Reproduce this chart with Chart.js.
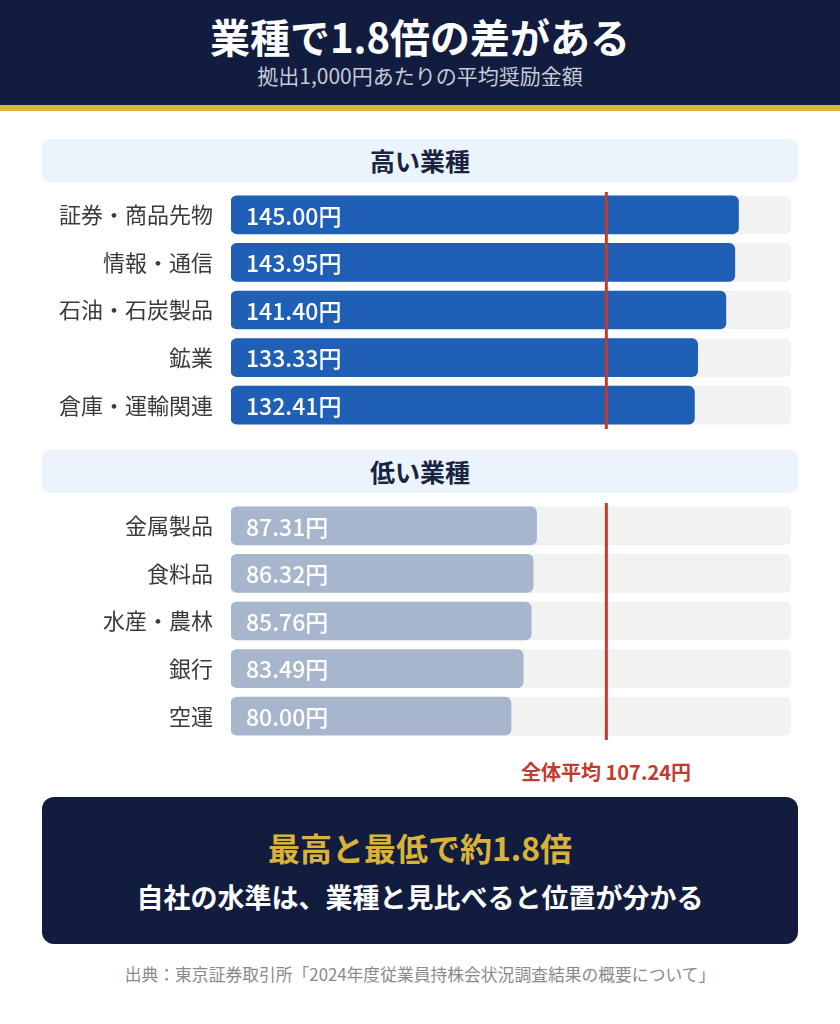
<!DOCTYPE html>
<html lang="ja">
<head>
<meta charset="utf-8">
<script src="https://cdn.jsdelivr.net/npm/chart.js@4.4.1/dist/chart.umd.min.js"></script>
<style>
  body { margin: 0; background: #fff; font-family: "Noto Sans CJK JP", "Noto Sans", sans-serif; }
  #page { position: relative; width: 840px; height: 1024px; overflow: hidden; }
  #header { position: absolute; left: 0; top: 0; width: 840px; height: 105px; background: #111c3f; border-bottom: 6px solid #d8b23a; }
  #title { position: absolute; left: 0; width: 840px; top: 10px; text-align: center; color: #fff; font-size: 40px; font-weight: 700; line-height: 52px; }
  #subtitle { position: absolute; left: 0; width: 840px; top: 61px; text-align: center; color: #c5cad6; font-size: 21px; line-height: 28px; }
  .section { position: absolute; left: 42px; width: 756px; height: 43px; background: #ebf3fc; border-radius: 8px;
    text-align: center; color: #1a2340; font-size: 25px; font-weight: 700; line-height: 42px; }
  .chartBox { position: absolute; left: 0; width: 840px; height: 238px; }
  #avgLabel { position: absolute; left: 406px; width: 400px; top: 759px; text-align: center; color: #c23b2f; font-size: 20px; font-weight: 700; line-height: 26px; }
  #summary { position: absolute; left: 42px; top: 797px; width: 756px; height: 147px; background: #111c3f; border-radius: 12px; text-align: center; }
  #summary .gold { position: absolute; left: 0; width: 756px; top: 28px; color: #d9b23a; font-size: 32px; font-weight: 700; line-height: 44px; }
  #summary .white { position: absolute; left: 0; width: 756px; top: 82px; color: #fff; font-size: 27px; font-weight: 700; line-height: 36px; }
  #source { position: absolute; left: 0; width: 840px; top: 962px; text-align: center; color: #8a8a8a; font-size: 16.8px; line-height: 24px; }
</style>
</head>
<body>
<div id="page">
  <div id="header">
    <div id="title">業種で1.8倍の差がある</div>
    <div id="subtitle">拠出1,000円あたりの平均奨励金額</div>
  </div>
  <div class="section" style="top:139px">高い業種</div>
  <div class="chartBox" style="top:191px"><canvas id="highChart"></canvas></div>
  <div class="section" style="top:450px">低い業種</div>
  <div class="chartBox" style="top:502px"><canvas id="lowChart"></canvas></div>
  <div id="avgLabel">全体平均 107.24円</div>
  <div id="summary">
    <div class="gold">最高と最低で約1.8倍</div>
    <div class="white">自社の水準は、業種と見比べると位置が分かる</div>
  </div>
  <div id="source">出典：東京証券取引所「2024年度従業員持株会状況調査結果の概要について」</div>
</div>

<script>
const highLabels = ['証券・商品先物', '情報・通信', '石油・石炭製品', '鉱業', '倉庫・運輸関連'];
const highValues = [145.00, 143.95, 141.40, 133.33, 132.41];
const lowLabels = ['金属製品', '食料品', '水産・農林', '銀行', '空運'];
const lowValues = [87.31, 86.32, 85.76, 83.49, 80.00];
const average = 107.24;
const axisMax = 160;

const fontFamily = '"Noto Sans CJK JP", "Noto Sans", sans-serif';

// value text inside each bar + the average line
const barExtras = {
  id: 'barExtras',
  afterDatasetsDraw(chart) {
    const c = chart.ctx;
    const x = chart.scales.x;
    const meta = chart.getDatasetMeta(0);
    const values = chart.data.datasets[0].data;
    c.save();
    c.font = '500 23px ' + fontFamily;
    c.fillStyle = '#fff';
    c.textAlign = 'left';
    c.textBaseline = 'middle';
    meta.data.forEach((bar, i) => {
      c.fillText(values[i].toFixed(2) + '円', x.getPixelForValue(0) + 15, bar.y + 1);
    });
    const ax = x.getPixelForValue(average);
    c.strokeStyle = '#c23b2f';
    c.lineWidth = 3;
    c.beginPath();
    c.moveTo(ax, chart.chartArea.top + 1);
    c.lineTo(ax, chart.chartArea.bottom);
    c.stroke();
    c.restore();
  }
};

function makeChart(id, labels, values, color) {
  return new Chart(document.getElementById(id), {
    type: 'bar',
    data: {
      labels: labels,
      datasets: [{
        data: values,
        backgroundColor: color,
        borderRadius: 6,
        borderSkipped: false,
        barThickness: 38,
        order: 1
      }, {
        data: labels.map(() => axisMax),
        backgroundColor: '#f2f2f2',
        borderRadius: 6,
        borderSkipped: false,
        barThickness: 38,
        order: 2
      }]
    },
    options: {
      indexAxis: 'y',
      responsive: true,
      maintainAspectRatio: false,
      animation: false,
      layout: { padding: { left: 0, right: 49, top: 0, bottom: 0 } },
      plugins: { legend: { display: false }, tooltip: { enabled: false } },
      scales: {
        x: { display: false, min: 0, max: axisMax },
        y: {
          grid: { display: false, drawTicks: false },
          border: { display: false },
          ticks: { padding: 18, color: '#3a3a3a', font: { family: fontFamily, size: 22 } },
          afterFit(scale) {
            scale.width = 231;
            // tick padding would otherwise push the rows inwards
            scale.paddingTop = 0;
            scale.paddingBottom = 0;
          }
        }
      },
      datasets: { bar: { grouped: false } }
    },
    plugins: [barExtras]
  });
}

makeChart('highChart', highLabels, highValues, '#1f5fb5');
makeChart('lowChart', lowLabels, lowValues, '#a7b6cc');
</script>
</body>
</html>
